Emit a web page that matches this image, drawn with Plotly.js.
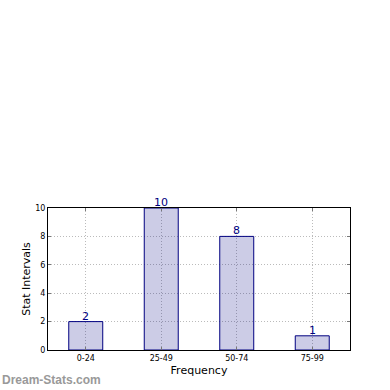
<!DOCTYPE html>
<html><head><meta charset="utf-8">
<script src="https://cdn.plot.ly/plotly-3.0.1.min.js"></script>
<style>html,body{margin:0;padding:0;background:#fff}#c{width:390px;height:390px}</style>
</head><body><div id="c"></div>
<script>
const categories = ["0-24", "25-49", "50-74", "75-99"];
const values = [2, 10, 8, 1];
const yTicks = [0, 2, 4, 6, 8, 10];

const trace = {
  type: 'bar', x: categories, y: values, width: 0.45,
  marker: {color: 'rgba(0,0,128,0.2)', line: {color: '#000080', width: 1}},
  hoverinfo: 'none'
};
const labels = categories.map((c, i) => ({
  x: c, y: values[i], xref: 'x', yref: 'y', text: String(values[i]),
  showarrow: false, yanchor: 'bottom', yshift: -3,
  font: {family: 'DejaVu Sans', size: 11, color: '#000080'}
}));
const layout = {
  width: 390, height: 390,
  margin: {l: 48, r: 40, t: 208, b: 40},
  paper_bgcolor: '#fff', plot_bgcolor: '#fff',
  showlegend: false,
  font: {family: 'DejaVu Sans', color: '#000'},
  xaxis: {
    type: 'category', range: [-0.5, 3.5],
    showgrid: true, gridcolor: '#bbb', griddash: '1px,2px', gridwidth: 1,
    showline: true, linecolor: '#000', linewidth: 1, mirror: 'ticks',
    ticks: 'inside', ticklen: 3, tickcolor: '#777',
    tickfont: {size: 8, family: 'DejaVu Sans'},
    title: {text: 'Frequency', font: {size: 11}, standoff: 4}
  },
  yaxis: {
    range: [0, 10], tickvals: yTicks, ticktext: yTicks.map(String),
    showgrid: true, gridcolor: '#bbb', griddash: '1px,2px', gridwidth: 1,
    showline: true, linecolor: '#000', linewidth: 1, mirror: 'ticks',
    ticks: 'inside', ticklen: 3, tickcolor: '#777',
    tickfont: {size: 8, family: 'DejaVu Sans'},
    zeroline: false,
    title: {text: 'Stat Intervals', font: {size: 11}, standoff: 2}
  },
  annotations: labels.concat([{
    text: 'Dream-Stats.com', xref: 'paper', yref: 'paper',
    x: -0.159, y: -0.21, xanchor: 'left', yanchor: 'middle', showarrow: false,
    font: {family: 'Liberation Sans', size: 12, color: '#999', weight: 'bold'}
  }])
};
Plotly.newPlot('c', [trace], layout, {displayModeBar: false, staticPlot: true});
</script></body></html>
